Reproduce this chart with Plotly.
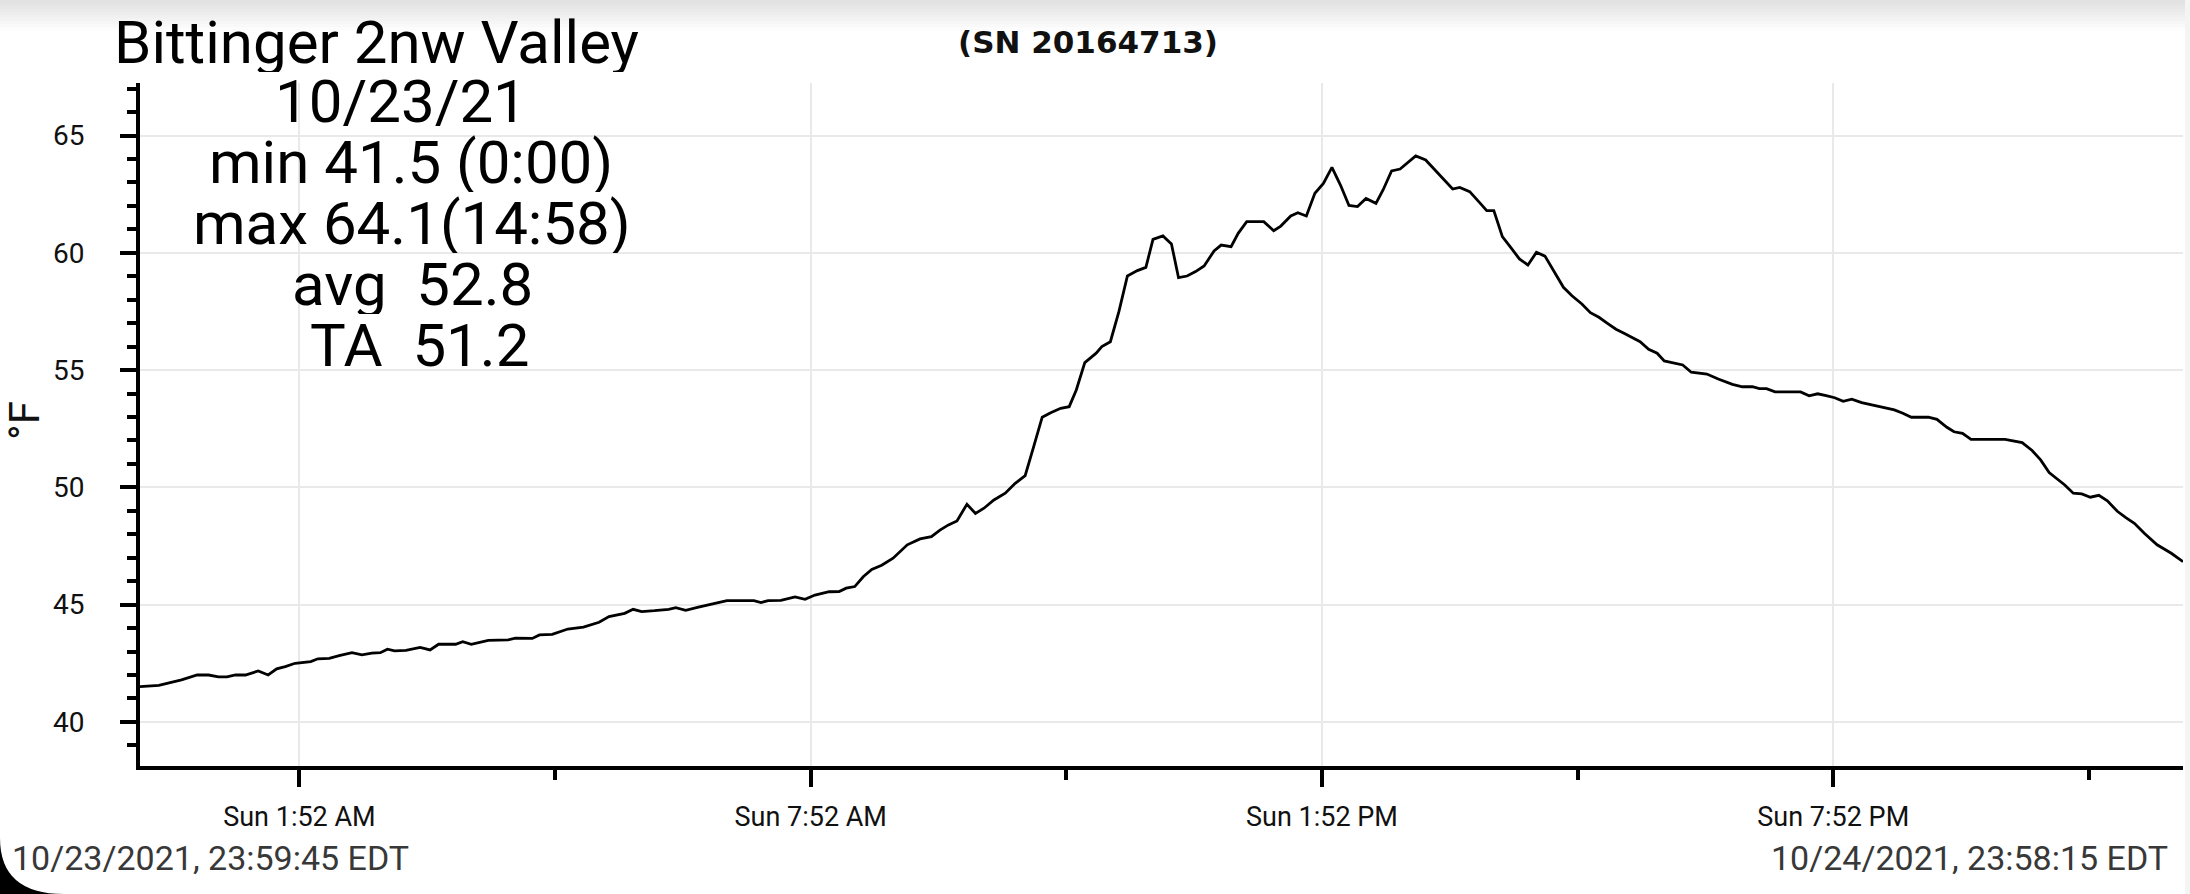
import pandas as pd
import plotly.graph_objects as go

# ---------------- data ----------------
# minutes after 2021-10-24 00:00 (first sample 10/23 23:59:45, last 10/24 23:58:15)
minutes = [-0.25, 13, 29, 40, 48, 55, 61, 67, 74, 83, 90, 96, 102, 109, 120, 125, 133, 140, 149, 156,
           163, 169, 174, 179, 187, 197, 204, 210, 222, 227, 233, 245, 259, 264, 276, 281, 290, 301, 312, 323,
           330, 341, 347, 353, 362, 372, 377, 384, 393, 403, 413, 432, 437, 442, 451, 461, 468, 475, 485, 492,
           497, 503, 509, 515, 522, 530, 540, 549, 557, 563, 569, 575, 582, 588, 594, 601, 609, 616, 623, 629,
           635, 641, 648, 654, 659, 665, 673, 677, 683, 689, 695, 702, 708, 713, 720, 726, 731, 737, 743, 749,
           756, 761, 768, 773, 779, 791, 798, 803, 810, 815, 821, 827, 833, 839, 845, 851, 857, 863, 870, 875,
           881, 887, 892, 898, 905, 911, 917, 924, 929, 936, 943, 948, 953, 959, 965, 971, 977, 983, 989, 995,
           1002, 1008, 1015, 1021, 1027, 1033, 1039, 1045, 1051, 1056, 1062, 1068, 1073, 1086, 1092, 1103, 1111, 1121, 1128, 1135,
           1140, 1145, 1151, 1169, 1175, 1181, 1187, 1193, 1199, 1205, 1212, 1224, 1235, 1241, 1247, 1259, 1265, 1272, 1277, 1283,
           1289, 1313, 1325, 1332, 1338, 1344, 1350, 1355, 1361, 1367, 1373, 1379, 1385, 1392, 1398, 1404, 1411, 1420, 1430, 1438.25]
temps_f = [41.50, 41.56, 41.79, 42.00, 42.00, 41.92, 41.92, 42.00, 42.00, 42.17, 42.00, 42.26, 42.36, 42.50, 42.57, 42.69, 42.71, 42.83, 42.95, 42.86,
           42.93, 42.95, 43.10, 43.03, 43.05, 43.18, 43.07, 43.31, 43.31, 43.42, 43.31, 43.48, 43.50, 43.57, 43.56, 43.71, 43.73, 43.96, 44.04, 44.25,
           44.49, 44.63, 44.80, 44.70, 44.74, 44.80, 44.87, 44.76, 44.89, 45.03, 45.17, 45.17, 45.09, 45.17, 45.18, 45.33, 45.23, 45.41, 45.55, 45.56,
           45.70, 45.77, 46.19, 46.50, 46.68, 46.98, 47.55, 47.80, 47.90, 48.18, 48.40, 48.57, 49.28, 48.89, 49.11, 49.46, 49.75, 50.17, 50.50, 51.74,
           52.99, 53.18, 53.37, 53.44, 54.15, 55.32, 55.72, 56.00, 56.21, 57.49, 59.01, 59.24, 59.38, 60.57, 60.72, 60.38, 58.94, 59.01, 59.20, 59.44,
           60.08, 60.33, 60.26, 60.83, 61.33, 61.33, 60.94, 61.14, 61.57, 61.71, 61.57, 62.54, 62.96, 63.64, 62.89, 62.02, 61.97, 62.32, 62.11, 62.68,
           63.49, 63.57, 63.84, 64.13, 63.96, 63.56, 63.15, 62.72, 62.79, 62.61, 62.14, 61.80, 61.80, 60.69, 60.22, 59.74, 59.48, 60.02, 59.86, 59.27,
           58.53, 58.17, 57.82, 57.45, 57.25, 56.99, 56.74, 56.56, 56.36, 56.21, 55.89, 55.72, 55.39, 55.22, 54.91, 54.83, 54.62, 54.39, 54.29, 54.29,
           54.21, 54.21, 54.07, 54.07, 53.90, 53.99, 53.91, 53.82, 53.67, 53.76, 53.61, 53.44, 53.30, 53.16, 52.99, 52.99, 52.90, 52.56, 52.37, 52.30,
           52.05, 52.05, 51.91, 51.57, 51.17, 50.63, 50.35, 50.10, 49.75, 49.72, 49.58, 49.66, 49.43, 48.98, 48.71, 48.47, 48.04, 47.55, 47.19, 46.83]

x_tick_times = ["2021-10-24 01:52", "2021-10-24 07:52", "2021-10-24 13:52", "2021-10-24 19:52"]
x_tick_labels = ["Sun 1:52 AM", "Sun 7:52 AM", "Sun 1:52 PM", "Sun 7:52 PM"]
x_minor_times = ["2021-10-24 04:52", "2021-10-24 10:52", "2021-10-24 16:52", "2021-10-24 22:52"]
y_range = [38.12, 67.24]

title_lines = ["Bittinger 2nw Valley", "10/23/21", "min 41.5 (0:00)", "max 64.1(14:58)",
               "avg\u00a0 52.8", "TA\u00a0 51.2"]
serial_text = "(SN 20164713)"
start_label = "10/23/2021, 23:59:45 EDT"
end_label = "10/24/2021, 23:58:15 EDT"
y_title = "°F"

# ---------------- figure ----------------
W, H = 2190, 894
L, R, T, B = 140, 7, 83, 128
PW, PH = W - L - R, H - T - B


def px(xp):
    return (xp - L) / PW


def py(yp):
    return (H - B - yp) / PH


times = pd.Timestamp("2021-10-24") + pd.to_timedelta(minutes, unit="min")

fig = go.Figure()
fig.add_trace(go.Scatter(x=times, y=temps_f, mode="lines",
                         line=dict(color="#000000", width=2.8), hoverinfo="skip", showlegend=False))

FONT = "Roboto"

fig.update_layout(
    width=W, height=H,
    margin=dict(l=L, r=R, t=T, b=B, pad=0),
    paper_bgcolor="white", plot_bgcolor="white",
    font=dict(family=FONT, color="#111111"),
    showlegend=False,
)

fig.update_xaxes(
    type="date",
    range=[times[0], times[-1]],
    tickmode="array", tickvals=x_tick_times, ticktext=x_tick_labels,
    ticks="outside", ticklen=17, tickwidth=4, tickcolor="black",
    tickfont=dict(size=27, color="#111111", family=FONT),
    ticklabelstandoff=7,
    showline=True, linecolor="black", linewidth=4,
    showgrid=True, gridcolor="#e9e9e9", gridwidth=1.5,
    minor=dict(tickvals=x_minor_times, ticks="outside", ticklen=10, tickwidth=4,
               tickcolor="black", showgrid=False),
    zeroline=False, fixedrange=True,
)

fig.update_yaxes(
    range=y_range,
    tickmode="linear", tick0=40, dtick=5,
    ticks="outside", ticklen=16, tickwidth=4, tickcolor="black",
    tickfont=dict(size=28, color="#111111", family=FONT),
    ticklabelstandoff=30,
    showline=True, linecolor="black", linewidth=4,
    showgrid=True, gridcolor="#e9e9e9", gridwidth=1.5,
    minor=dict(dtick=1, tick0=40, ticks="outside", ticklen=9, tickwidth=4,
               tickcolor="black", showgrid=False),
    zeroline=False, fixedrange=True,
)

annotations = []
line_centers_x = [376, 401, 411, 412, 412, 419]
line_centers_y = [42, 101, 162, 223, 284, 345]
for txt, cx, cy in zip(title_lines, line_centers_x, line_centers_y):
    annotations.append(dict(text=txt, xref="paper", yref="paper", x=px(cx), y=py(cy),
                            xanchor="center", yanchor="middle", showarrow=False,
                            height=60, valign="middle", borderpad=0,
                            font=dict(family=FONT, size=60, color="#000000")))

annotations.append(dict(text="<b>" + serial_text + "</b>", xref="paper", yref="paper",
                        x=px(1088), y=py(42), xanchor="center", yanchor="middle", showarrow=False,
                        font=dict(family="DejaVu Sans", size=31, color="#111111")))

annotations.append(dict(text=y_title, xref="paper", yref="paper", x=px(25), y=py(421),
                        xanchor="center", yanchor="middle", showarrow=False, textangle=-90,
                        font=dict(family=FONT, size=42, color="#111111")))

annotations.append(dict(text=start_label, xref="paper", yref="paper", x=px(10), y=py(858),
                        xanchor="left", yanchor="middle", showarrow=False,
                        font=dict(family=FONT, size=34, color="#383838")))
annotations.append(dict(text=end_label, xref="paper", yref="paper", x=px(2170), y=py(858),
                        xanchor="right", yanchor="middle", showarrow=False,
                        font=dict(family=FONT, size=34, color="#383838")))

fig.update_layout(annotations=annotations)

shapes = []
# faint status-bar shadow at the top of the screenshot
for i in range(10):
    y0, y1 = i * 3, i * 3 + 3
    shade = int(226 + (255 - 226) * i / 10)
    shapes.append(dict(type="rect", xref="paper", yref="paper", layer="below",
                       x0=px(0), x1=px(W), y0=py(y1), y1=py(y0),
                       fillcolor=f"rgb({shade},{shade},{shade})", line=dict(width=0)))
# rounded black screen corner bottom-left
x0c, y0c, x1c, y1c = px(0), py(838), px(64), py(H)
shapes.append(dict(type="path", xref="paper", yref="paper",
                   path=f"M {x0c},{y0c} Q {x0c},{y1c} {x1c},{y1c} L {x0c},{y1c} Z",
                   fillcolor="black", line=dict(width=0)))
# light edge at right
shapes.append(dict(type="rect", xref="paper", yref="paper", layer="below",
                   x0=px(2185), x1=px(W), y0=py(H), y1=py(0),
                   fillcolor="#f4f4f4", line=dict(width=0)))
fig.update_layout(shapes=shapes)

fig.write_html("out.html", config={"displayModeBar": False},
               post_script="document.body.style.margin='0px';document.body.style.overflow='hidden';")
